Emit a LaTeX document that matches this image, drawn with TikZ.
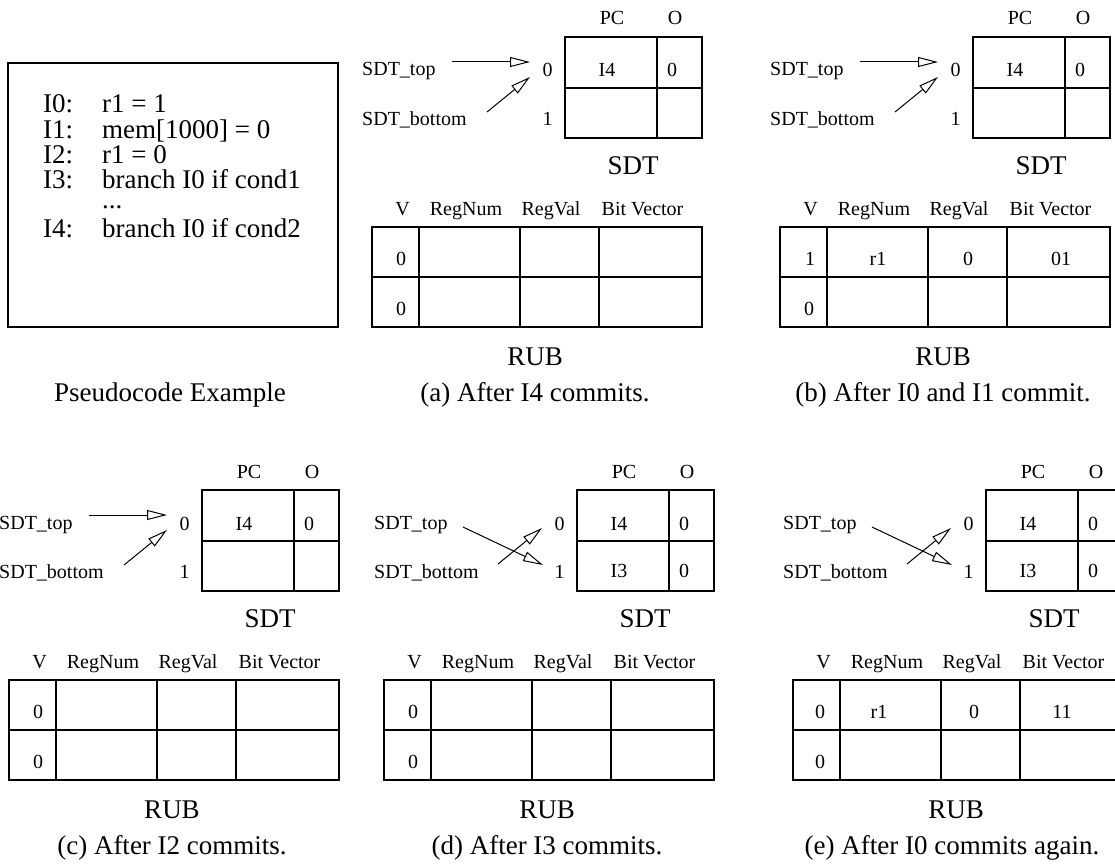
\documentclass[tikz,border=0pt]{standalone}
\usepackage{fontspec}
\setmainfont{Liberation Serif}
\usetikzlibrary{arrows.meta}
\tikzset{
  sm/.style={font=\fontsize{20}{24}\selectfont, inner sep=0pt, anchor=base},
  lg/.style={font=\fontsize{27}{32}\selectfont, inner sep=0pt, anchor=base},
  tbl/.style={draw, line width=1.1pt, inner sep=0pt},
  gridline/.style={line width=1.1pt},
  ptr/.style={line width=1pt, -{Triangle[open,length=20pt,width=10pt]}},
}
\newcommand{\panelframe}[2]{%
  \node[sm] (pc) at (612,25) {PC};
  \node[sm] (o) at (675,25) {O};
  \node[tbl, minimum width=137pt, minimum height=101pt] (sdt) at (633.5,87.5) {};
  \draw[gridline] (565,88) -- (702,88);
  \draw[gridline] (657,37) -- (657,138);
  \node[sm] (i0) at (547.5,77) {0};
  \node[sm] (i1) at (547.5,125) {1};
  \node[sm, anchor=base west] (top) at (362,76) {SDT\_top};
  \node[sm, anchor=base west] (bot) at (362,125) {SDT\_bottom};
  \node[lg] (sdtlab) at (633,174) {SDT};
  \node[sm] (hv) at (402.5,215) {V};
  \node[sm] (hn) at (466,215) {RegNum};
  \node[sm] (hr) at (551,215) {RegVal};
  \node[sm] (hb) at (642.5,215) {Bit Vector};
  \node[tbl, minimum width=330pt, minimum height=100pt] (rub) at (537,277) {};
  \draw[gridline] (372,277) -- (702,277);
  \draw[gridline] (419,227) -- (419,327);
  \draw[gridline] (520,227) -- (520,327);
  \draw[gridline] (599,227) -- (599,327);
  \node[lg] (rublab) at (535,365) {RUB};
  \node[lg] (cap) at (#1,401) {#2};
}
\newcommand{\straightptr}{%
  \coordinate (ts) at (452,62); \coordinate (te) at (530,62);
  \coordinate (bs) at (487,112); \coordinate (be) at (530,77);
  \draw[ptr] (ts) -- (te);
  \draw[ptr] (bs) -- (be);
}
\newcommand{\crossptr}{%
  \coordinate (ts) at (451,74); \coordinate (te) at (531,112);
  \coordinate (bs) at (486,111); \coordinate (be) at (530,75);
  \draw[ptr] (ts) -- (te);
  \draw[ptr] (bs) -- (be);
}
\begin{document}
\begin{tikzpicture}[x=1pt, y=-1pt]
\useasboundingbox (0,0) rectangle (1115,864);
\clip (0,0) rectangle (1115,864);

% pseudocode
\node[tbl, minimum width=330pt, minimum height=264pt] (code) at (173,195) {};
\node[lg, anchor=base west] (l0) at (43,113) {I0:};
\node[lg, anchor=base west] (c0) at (102,113) {r1 = 1};
\node[lg, anchor=base west] (l1) at (43,138) {I1:};
\node[lg, anchor=base west] (c1) at (102,138) {mem[1000] = 0};
\node[lg, anchor=base west] (l2) at (43,163) {I2:};
\node[lg, anchor=base west] (c2) at (102,163) {r1 = 0};
\node[lg, anchor=base west] (l3) at (43,188) {I3:};
\node[lg, anchor=base west] (c3) at (102,188) {branch I0 if cond1};
\node[lg, anchor=base west, text height=4pt, text depth=0pt] (cd) at (102,208) {...};
\node[lg, anchor=base west] (l4) at (43,237) {I4:};
\node[lg, anchor=base west] (c4) at (102,237) {branch I0 if cond2};
\node[lg] (pcap) at (170,401) {Pseudocode Example};

% (a)
\begin{scope}[name prefix=a-]
  \panelframe{535}{(a) After I4 commits.}
  \straightptr
  \node[sm] (s1) at (607,77) {I4};
  \node[sm] (s2) at (672,77) {0};
  \node[sm] (v1) at (401,265) {0};
  \node[sm] (v2) at (401,315) {0};
\end{scope}

% (b)
\begin{scope}[shift={(408,0)}, name prefix=b-]
  \panelframe{535}{(b) After I0 and I1 commit.}
  \straightptr
  \node[sm] (s1) at (607,77) {I4};
  \node[sm] (s2) at (672,77) {0};
  \node[sm] (v1) at (402,265) {1};
  \node[sm] (n1) at (470,265) {r1};
  \node[sm] (r1) at (560,265) {0};
  \node[sm] (b1) at (653,265) {01};
  \node[sm] (v2) at (401,315) {0};
\end{scope}

% (c)
\begin{scope}[shift={(-363,453)}, name prefix=c-]
  \panelframe{535}{(c) After I2 commits.}
  \straightptr
  \node[sm] (s1) at (607,77) {I4};
  \node[sm] (s2) at (672,77) {0};
  \node[sm] (v1) at (401,265) {0};
  \node[sm] (v2) at (401,315) {0};
\end{scope}

% (d)
\begin{scope}[shift={(12,453)}, name prefix=d-]
  \panelframe{535}{(d) After I3 commits.}
  \crossptr
  \node[sm] (s1) at (607,77) {I4};
  \node[sm] (s2) at (672,77) {0};
  \node[sm] (s3) at (607,124) {I3};
  \node[sm] (s4) at (672,124) {0};
  \node[sm] (v1) at (401,265) {0};
  \node[sm] (v2) at (401,315) {0};
\end{scope}

% (e)
\begin{scope}[shift={(421,453)}, name prefix=e-]
  \panelframe{531}{(e) After I0 commits again.}
  \crossptr
  \node[sm] (s1) at (607,77) {I4};
  \node[sm] (s2) at (672,77) {0};
  \node[sm] (s3) at (607,124) {I3};
  \node[sm] (s4) at (672,124) {0};
  \node[sm] (v1) at (399,265) {0};
  \node[sm] (n1) at (458,265) {r1};
  \node[sm] (r1) at (553,265) {0};
  \node[sm] (b1) at (641,265) {11};
  \node[sm] (v2) at (399,315) {0};
\end{scope}
\end{tikzpicture}
\end{document}
